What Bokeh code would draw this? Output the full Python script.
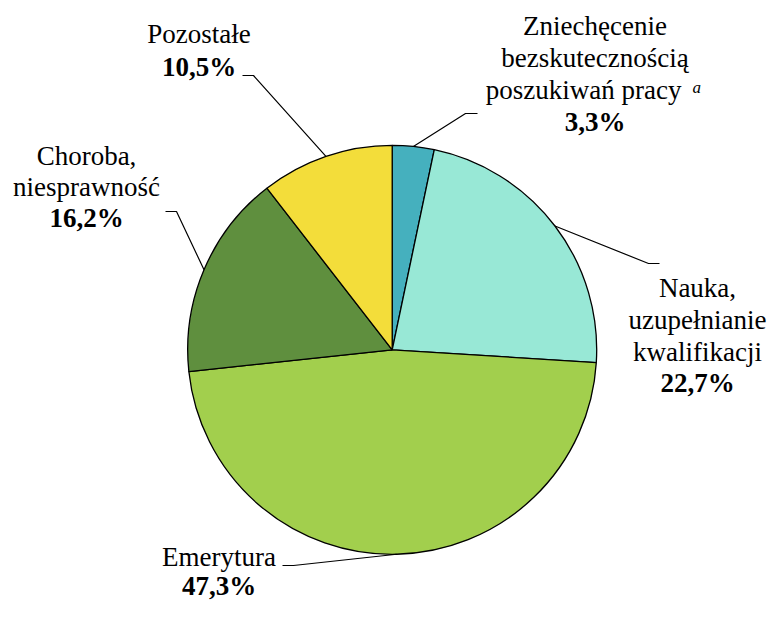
import math
from bokeh.plotting import figure
from bokeh.models import Range1d
from bokeh.core.properties import value
from bokeh.embed import file_html
from bokeh.resources import INLINE

# ---- data ----
categories = ["Zniechęcenie bezskutecznością poszukiwań pracy",
              "Nauka, uzupełnianie kwalifikacji",
              "Emerytura",
              "Choroba, niesprawność",
              "Pozostałe"]
shares = [3.3, 22.7, 47.3, 16.2, 10.5]
colors = ["#45B0BE", "#98E8D6", "#A2CF4D", "#5F8F3E", "#F3DD3A"]
label_lines = [["Zniechęcenie", "bezskutecznością", "poszukiwań pracy"],
               ["Nauka,", "uzupełnianie", "kwalifikacji"],
               ["Emerytura"],
               ["Choroba,", "niesprawność"],
               ["Pozostałe"]]

W, H = 768, 601
def X(xi): return xi
def Y(yi): return H - yi
def YB(yb, fs):  # baseline position correction for the svg text renderer
    return H - (yb - 0.3375 * fs)

def FONT():
    return value("Liberation Serif")
FSN = 27
FS = f"{FSN}px"

p = figure(width=W, height=H, output_backend="svg", toolbar_location=None,
           x_range=Range1d(0, W), y_range=Range1d(0, H), min_border=0)
p.axis.visible = False
p.grid.visible = False
p.outline_line_color = None
p.background_fill_color = "white"

cx, cy, r = X(391.7), Y(349.3), 204.5
total = sum(shares)
cum = 0.0
mids = []
for s, c in zip(shares, colors):
    a0 = math.pi / 2 - 2 * math.pi * cum / total
    a1 = math.pi / 2 - 2 * math.pi * (cum + s) / total
    p.wedge(x=cx, y=cy, radius=r, start_angle=a0, end_angle=a1, direction="clock",
            fill_color=c, line_color="black", line_width=1.3)
    mids.append((a0 + a1) / 2)
    cum += s

# label layout: (center x, first baseline y, line step) in screen coords, and leader elbows
layout = [
    dict(cx=594.5, y0=35, lh=32, elbow=[(477, 113), (465, 113)]),
    dict(cx=697, y0=297, lh=31.7, elbow=[(659, 263), (648, 263)]),
    dict(cx=218.5, y0=566, lh=29, elbow=[(282, 565), (293, 565)]),
    dict(cx=86, y0=165, lh=31, elbow=[(165, 211), (176, 211)]),
    dict(cx=198.5, y0=43, lh=33, elbow=[(242, 75), (253, 75)]),
]

for i, (lines, s, lay, m) in enumerate(zip(label_lines, shares, layout, mids)):
    n = len(lines)
    for j, t in enumerate(lines):
        yb = lay["y0"] + j * lay["lh"]
        if i == 0 and j == 2:
            p.text(x=[X(681)], y=[YB(yb, FSN)], text=[t], text_font=FONT(), text_font_size=FS,
                   text_align="right", text_baseline="alphabetic", text_color="black")
            p.text(x=[X(692)], y=[YB(93, 17)], text=["a"], text_font=FONT(), text_font_size="17px",
                   text_font_style="italic", text_align="left", text_baseline="alphabetic",
                   text_color="black")
        else:
            p.text(x=[X(lay["cx"])], y=[YB(yb, FSN)], text=[t], text_font=FONT(), text_font_size=FS,
                   text_align="center", text_baseline="alphabetic", text_color="black")
    pct = f"{s:.1f}".replace(".", ",") + "%"
    yb = lay["y0"] + n * lay["lh"]
    p.text(x=[X(lay["cx"])], y=[YB(yb, FSN)], text=[pct], text_font=FONT(), text_font_size=FS,
           text_font_style="bold", text_align="center", text_baseline="alphabetic",
           text_color="black")
    ex, ey = cx + r * math.cos(m), cy + r * math.sin(m)
    xs = [X(lay["elbow"][0][0]), X(lay["elbow"][1][0]), ex]
    ys = [Y(lay["elbow"][0][1]), Y(lay["elbow"][1][1]), ey]
    p.line(x=xs, y=ys, line_color="black", line_width=1.2)

open("out.html", "w").write(file_html(p, INLINE))
